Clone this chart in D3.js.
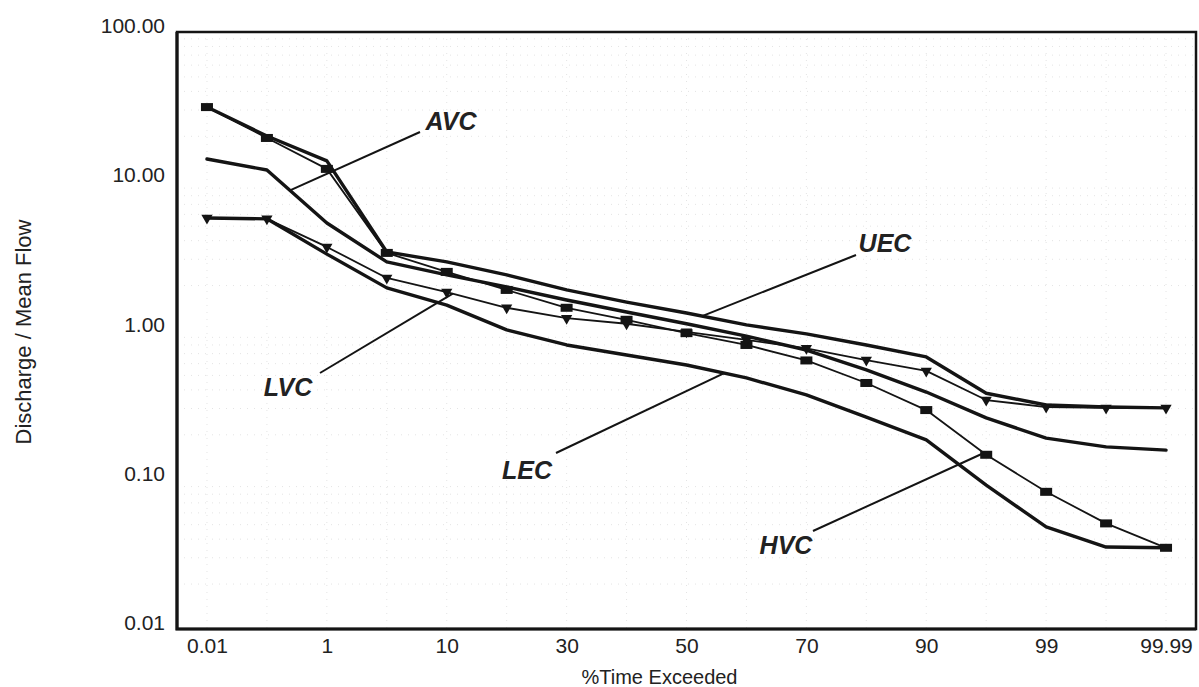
<!DOCTYPE html>
<html>
<head>
<meta charset="utf-8">
<script src="https://cdn.jsdelivr.net/npm/d3@7"></script>
<style>
  body { margin: 0; background: #fff; }
  text { font-family: "Liberation Sans", Arial, Helvetica, sans-serif; fill: #222; }
</style>
</head>
<body>
<svg id="chart" width="1199" height="687"></svg>
<script>
// Exceedance percentages (probability axis, equally spaced positions)
const categories = ["0.01", "0.1", "1", "5", "10", "20", "30", "40", "50", "60", "70", "80", "90", "95", "99", "99.9", "99.99"];
const xTickLabels = ["0.01", "1", "10", "30", "50", "70", "90", "99", "99.99"];
const yTickValues = [0.01, 0.1, 1, 10, 100];

// Discharge / mean flow for each curve
const UEC = [31.4, 20.1, 13.7, 3.36, 2.88, 2.36, 1.87, 1.55, 1.31, 1.09, 0.95, 0.80, 0.665, 0.38, 0.317, 0.307, 0.303];
const AVC = [14.1, 11.9, 5.25, 2.88, 2.36, 1.96, 1.60, 1.33, 1.11, 0.918, 0.74, 0.544, 0.387, 0.26, 0.19, 0.166, 0.158];
const HVC = [31.4, 19.5, 12.1, 3.31, 2.47, 1.87, 1.42, 1.18, 0.96, 0.80, 0.63, 0.445, 0.293, 0.147, 0.083, 0.051, 0.035];
const LVC = [5.67, 5.6, 3.63, 2.25, 1.81, 1.42, 1.21, 1.11, 0.98, 0.865, 0.76, 0.634, 0.536, 0.342, 0.307, 0.303, 0.303];
const LEC = [5.67, 5.6, 3.25, 1.93, 1.48, 1.01, 0.80, 0.685, 0.587, 0.481, 0.37, 0.263, 0.185, 0.092, 0.0483, 0.0354, 0.035];

const seriesList = [
  { name: "HVC", values: HVC, width: 1.8, marker: "square" },
  { name: "LVC", values: LVC, width: 1.8, marker: "triangle" },
  { name: "UEC", values: UEC, width: 3.4, marker: null },
  { name: "AVC", values: AVC, width: 3.4, marker: null },
  { name: "LEC", values: LEC, width: 3.4, marker: null }
];

// Curve labels: leader tip sits on the curve at a fractional category index
const annotations = [
  { name: "AVC", at: 1.385, from: [420, 132], label: [451, 121] },
  { name: "UEC", at: 8.26,  from: [856, 255], label: [885, 243] },
  { name: "LVC", at: 4.1,   from: [320, 373], label: [288, 387] },
  { name: "LEC", at: 8.63,  from: [556, 453], label: [527, 470] },
  { name: "HVC", at: 12.96, from: [813, 531], label: [786, 545] }
];

const svg = d3.select("#chart");
const plot = { left: 177, right: 1196, top: 32, bottom: 629 };
const ink = "#141414";

const x = d3.scalePoint().domain(categories).range([plot.left, plot.right]).padding(0.5);
const y = d3.scaleLog().domain([0.01, 100]).range([plot.bottom, plot.top]);

// Faint dotted grid: minor log lines and one vertical per category
const minor = [];
for (let e = -2; e < 2; e++) for (let k = 2; k <= 9; k++) minor.push(k * Math.pow(10, e));
const grid = svg.append("g").attr("stroke", "#e4e4e4").attr("stroke-width", 1).attr("stroke-dasharray", "1,6");
grid.selectAll("line.h").data(minor).join("line").attr("class", "h")
  .attr("x1", plot.left).attr("x2", plot.right)
  .attr("y1", d => y(d)).attr("y2", d => y(d));
grid.selectAll("line.v").data(categories).join("line").attr("class", "v")
  .attr("x1", d => x(d)).attr("x2", d => x(d))
  .attr("y1", plot.top).attr("y2", plot.bottom);

// Axes
const yAxis = svg.append("g").attr("transform", `translate(${plot.left},0)`)
  .call(d3.axisLeft(y).tickValues(yTickValues).tickFormat(d3.format(".2f")).tickSize(0).tickPadding(12));
yAxis.select(".domain").remove();
yAxis.selectAll("text").attr("y", -6).style("font-size", "21px").attr("fill", "#222");

const xAxis = svg.append("g").attr("transform", `translate(0,${plot.bottom})`)
  .call(d3.axisBottom(x).tickValues(xTickLabels).tickSize(0).tickPadding(9));
xAxis.select(".domain").remove();
xAxis.selectAll("text").style("font-size", "21px").attr("fill", "#222");

svg.append("text")
  .attr("x", (plot.left + plot.right) / 2 - 27).attr("y", 684)
  .attr("text-anchor", "middle").style("font-size", "20px")
  .text("%Time Exceeded");

svg.append("text")
  .attr("transform", `translate(31,332) rotate(-90)`)
  .attr("text-anchor", "middle").style("font-size", "22px")
  .text("Discharge / Mean Flow");

// Curves
const line = d3.line().x((d, i) => x(categories[i])).y(d => y(d));
const curves = svg.append("g").attr("fill", "none").attr("stroke", ink)
  .attr("stroke-linejoin", "round").attr("stroke-linecap", "round");
seriesList.forEach(s => {
  curves.append("path").datum(s.values).attr("d", line).attr("stroke-width", s.width);
});

// Markers
seriesList.filter(s => s.marker === "square").forEach(s => {
  svg.append("g").selectAll("rect").data(s.values).join("rect")
    .attr("x", (d, i) => x(categories[i]) - 6).attr("y", d => y(d) - 4)
    .attr("width", 12).attr("height", 8).attr("fill", ink);
});
const tri = d3.symbol(d3.symbolTriangle, 55);
seriesList.filter(s => s.marker === "triangle").forEach(s => {
  svg.append("g").selectAll("path").data(s.values).join("path")
    .attr("d", tri)
    .attr("transform", (d, i) => `translate(${x(categories[i])},${y(d)}) rotate(180)`)
    .attr("fill", ink);
});

// Curve labels with leader lines
const byName = Object.fromEntries(seriesList.map(s => [s.name, s.values]));
function pointOn(values, t) {
  const i = Math.min(Math.floor(t), values.length - 2), f = t - i;
  const px = x(categories[i]) + f * (x(categories[i + 1]) - x(categories[i]));
  const lv = Math.log10(values[i]) + f * (Math.log10(values[i + 1]) - Math.log10(values[i]));
  return [px, y(Math.pow(10, lv))];
}
const notes = svg.append("g");
annotations.forEach(a => {
  const tip = pointOn(byName[a.name], a.at);
  notes.append("line")
    .attr("x1", a.from[0]).attr("y1", a.from[1]).attr("x2", tip[0]).attr("y2", tip[1])
    .attr("stroke", ink).attr("stroke-width", 2);
  notes.append("text")
    .attr("x", a.label[0]).attr("y", a.label[1])
    .attr("text-anchor", "middle").attr("dominant-baseline", "central")
    .style("font-size", "25px").style("font-weight", "bold").style("font-style", "italic")
    .attr("fill", ink)
    .text(a.name);
});

// Plot frame
svg.append("rect")
  .attr("x", plot.left).attr("y", plot.top)
  .attr("width", plot.right - plot.left).attr("height", plot.bottom - plot.top)
  .attr("fill", "none").attr("stroke", ink).attr("stroke-width", 2.5);
svg.append("path")
  .attr("d", `M${plot.left},${plot.top}V${plot.bottom}H${plot.right}`)
  .attr("fill", "none").attr("stroke", ink).attr("stroke-width", 3.2);
</script>
</body>
</html>
